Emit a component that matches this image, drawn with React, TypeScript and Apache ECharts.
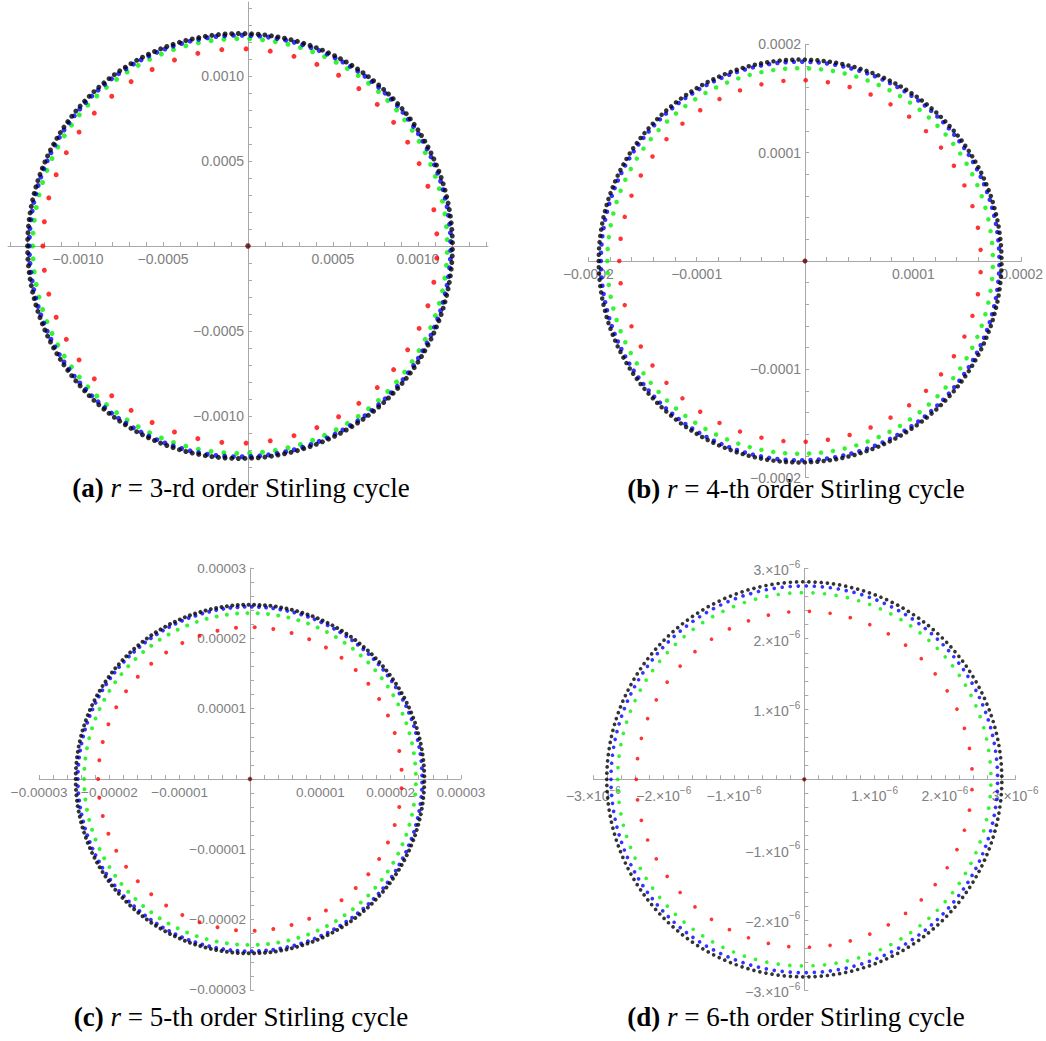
import React, { useEffect, useRef } from 'react';
import * as echarts from 'echarts';

// ---- data ----
const panelLetters = ['a', 'b', 'c', 'd'];
const orderTexts = ['3-rd', '4-th', '5-th', '6-th'];
const seriesColors = ['#ff0000', '#00f000', '#0000ff', '#000000'];
// number of points on each ring (red, green, blue, black)
const pointCounts = [51, 101, 151, 201];
// ring radii per panel (red, green, blue, black)
const radiiA = [0.00116, 0.00122, 0.00124, 0.00125];
const radiiB = [0.000167, 0.000178, 0.000184, 0.000186];
const radiiC = [0.0000216, 0.0000236, 0.0000245, 0.0000248];
const radiiD = [0.00000239, 0.000002655, 0.00000275, 0.00000281];
const ringCentersX = [-0.000047, -0.0000045, 0, 0];

// axis ranges
const xMins = [-0.001412, -0.0002, -0.00003, -0.000003];
const xMaxs = [0.001412, 0.0002, 0.00003, 0.000003];
const yMins = [-0.00148, -0.0002, -0.00003, -0.000003];
const yMaxs = [0.001435, 0.0002, 0.00003, 0.000003];

// tick labels
const tickValuesA = [-0.001, -0.0005, 0.0005, 0.001];
const tickLabelsA = ['−0.0010', '−0.0005', '0.0005', '0.0010'];
const tickValuesB = [-0.0002, -0.0001, 0.0001, 0.0002];
const tickLabelsB = ['−0.0002', '−0.0001', '0.0001', '0.0002'];
const tickValuesC = [-0.00003, -0.00002, -0.00001, 0.00001, 0.00002, 0.00003];
const tickLabelsC = ['−0.00003', '−0.00002', '−0.00001', '0.00001', '0.00002', '0.00003'];
const tickValuesD = [-0.000003, -0.000002, -0.000001, 0.000001, 0.000002, 0.000003];
const tickLabelsD = ['{b|−3.×10}{s|−6}', '{b|−2.×10}{s|−6}', '{b|−1.×10}{s|−6}', '{b|1.×10}{s|−6}', '{b|2.×10}{s|−6}', '{b|3.×10}{s|−6}'];
const minorSteps = [0.0001, 0.00002, 0.000002, 0.0000002];

// ---- layout (pixels) ----
const grids = [
  { left: 8, top: 2.05, width: 480, height: 495.55 },
  { left: 588.4, top: 44.4, width: 433.2, height: 433.2 },
  { left: 39.1, top: 568.1, width: 421.8, height: 421.8 },
  { left: 593.4, top: 568.4, width: 421.8, height: 421.8 },
];
const symbolSizes = [5, 4.5, 4, 3.7];
const labelSizes = [14, 14, 13.5, 14];
const captionPos = [
  [241, 488],
  [796, 489],
  [241, 1017],
  [796, 1017],
];

const axisColor = '#a8a8a8';
const labelColor = '#808080';

const radii = [radiiA, radiiB, radiiC, radiiD];
const tickValues = [tickValuesA, tickValuesB, tickValuesC, tickValuesD];
const tickLabels = [tickLabelsA, tickLabelsB, tickLabelsC, tickLabelsD];

function ring(cx: number, r: number, n: number) {
  const pts: number[][] = [];
  for (let k = 0; k < n; k++) {
    const t = Math.PI + (2 * Math.PI * k) / n;
    pts.push([cx + r * Math.cos(t), r * Math.sin(t)]);
  }
  return pts;
}

function minorList(min: number, max: number, step: number) {
  const out: number[] = [];
  const k0 = Math.ceil(min / step - 1e-9);
  const k1 = Math.floor(max / step + 1e-9);
  for (let k = k0; k <= k1; k++) {
    if (k !== 0) out.push(+(k * step).toPrecision(10));
  }
  return out;
}

function makeAxis(i: number, dim: 'x' | 'y') {
  const min = dim === 'x' ? xMins[i] : yMins[i];
  const max = dim === 'x' ? xMaxs[i] : yMaxs[i];
  const g = grids[i];
  // move the axis from the grid edge to the other axis's zero
  const offset =
    dim === 'x'
      ? -(g.height * (0 - yMins[i])) / (yMaxs[i] - yMins[i])
      : -(g.width * (0 - xMins[i])) / (xMaxs[i] - xMins[i]);
  const vals = tickValues[i].filter((v) => v >= min - 1e-12 && v <= max + 1e-12);
  const labels = tickLabels[i];
  const fmt = (v: number) => {
    for (let j = 0; j < tickValues[i].length; j++) {
      if (Math.abs(tickValues[i][j] - v) < Math.abs(tickValues[i][j]) * 1e-6 + 1e-15) return labels[j];
    }
    return '';
  };
  return {
    type: 'value',
    gridIndex: i,
    min,
    max,
    position: dim === 'x' ? 'bottom' : 'left',
    offset,
    splitLine: { show: false },
    axisLine: { show: true, onZero: false, lineStyle: { color: axisColor, width: 1 } },
    axisTick: {
      show: true,
      inside: true,
      length: 4,
      customValues: minorList(min, max, minorSteps[i]),
      lineStyle: { color: axisColor, width: 1 },
    },
    axisLabel: {
      show: true,
      customValues: vals,
      formatter: fmt,
      color: labelColor,
      fontFamily: 'Liberation Sans',
      fontSize: labelSizes[i],
      margin: dim === 'x' ? 6 : 4,
      rich: {
        b: { fontSize: labelSizes[i], color: labelColor, fontFamily: 'Liberation Sans', lineHeight: 18, verticalAlign: 'bottom' },
        s: { fontSize: 10, color: labelColor, fontFamily: 'Liberation Sans', lineHeight: 10, verticalAlign: 'top' },
      },
    },
  };
}

export default function App() {
  const ref = useRef<HTMLDivElement>(null);
  useEffect(() => {
    if (!ref.current) return;
    const chart = echarts.init(ref.current, undefined, { renderer: 'svg' });
    const series: any[] = [];
    for (let i = 0; i < 4; i++) {
      for (let s = 0; s < 4; s++) {
        series.push({
          type: 'scatter',
          xAxisIndex: i,
          yAxisIndex: i,
          symbol: 'circle',
          symbolSize: symbolSizes[i],
          itemStyle: { color: seriesColors[s] },
          data: ring(ringCentersX[i], radii[i][s], pointCounts[s]),
          silent: true,
        });
      }
      series.push({
        type: 'scatter',
        xAxisIndex: i,
        yAxisIndex: i,
        symbol: 'circle',
        symbolSize: symbolSizes[i],
        itemStyle: { color: '#2a0a0a', borderColor: '#cc2222', borderWidth: 0.8 },
        data: [[0, 0]],
        silent: true,
      });
    }
    const graphic = panelLetters.map((p, i) => ({
      type: 'text',
      x: captionPos[i][0],
      y: captionPos[i][1],
      style: {
        text: `{b|(${p})} {i|r} = ${orderTexts[i]} order Stirling cycle`,
        fontFamily: 'Liberation Serif',
        fontSize: 27,
        fill: '#000',
        textAlign: 'center',
        textVerticalAlign: 'middle',
        rich: {
          b: { fontFamily: 'Liberation Serif', fontSize: 27, fontWeight: 'bold' },
          i: { fontFamily: 'Liberation Serif', fontSize: 27, fontStyle: 'italic' },
        },
      },
    }));
    chart.setOption({
      animation: false,
      backgroundColor: '#ffffff',
      grid: grids.map((g) => ({ ...g, containLabel: false })),
      xAxis: [0, 1, 2, 3].map((i) => makeAxis(i, 'x')),
      yAxis: [0, 1, 2, 3].map((i) => makeAxis(i, 'y')),
      series,
      graphic,
    });
    return () => chart.dispose();
  }, []);
  return (
    <div
      ref={ref}
      style={{ position: 'absolute', left: 0, top: 0, width: 1046, height: 1041, background: '#fff' }}
    />
  );
}
